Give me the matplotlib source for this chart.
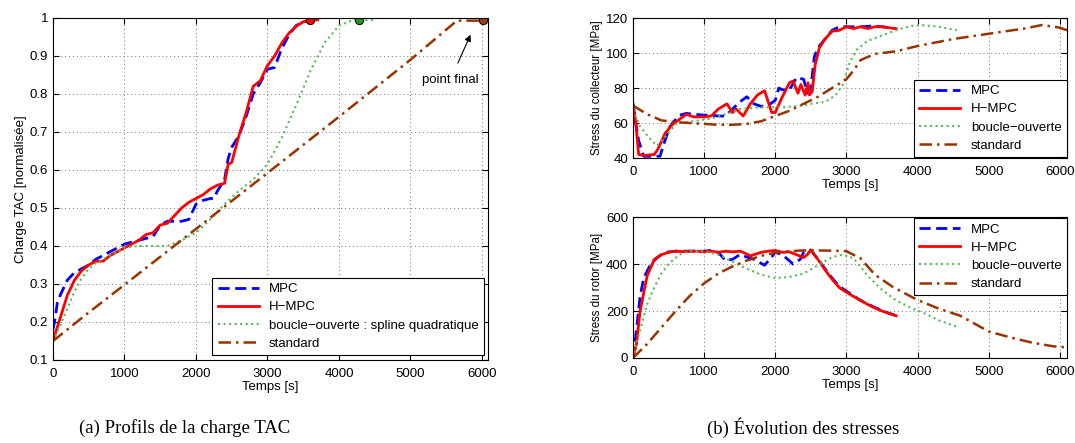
import matplotlib
matplotlib.use('Agg')
from matplotlib import pyplot as plt
import numpy as np

plt.rcParams['font.family'] = ['Liberation Sans', 'DejaVu Sans']

# ---- (a) charge TAC ----
t_mpc = [0, 30, 60, 100, 150, 200, 300, 400, 500, 600, 700, 800, 900, 1000, 1100, 1200, 1300, 1400,
         1500, 1600, 1700, 1800, 1900, 2000, 2100, 2200, 2250, 2300, 2350, 2400, 2450, 2500, 2600,
         2700, 2800, 2900, 3000, 3100, 3200, 3300, 3400, 3500, 3600, 3700]
c_mpc = [0.18, 0.21, 0.25, 0.27, 0.29, 0.31, 0.33, 0.34, 0.35, 0.365, 0.375, 0.385, 0.395, 0.405, 0.41,
         0.415, 0.42, 0.425, 0.455, 0.465, 0.465, 0.465, 0.47, 0.51, 0.52, 0.525, 0.525, 0.545, 0.56,
         0.575, 0.63, 0.66, 0.69, 0.74, 0.80, 0.83, 0.865, 0.87, 0.92, 0.955, 0.98, 0.99, 0.995, 0.995]

t_hmpc = [0, 50, 100, 150, 200, 300, 400, 500, 600, 700, 800, 900, 1000, 1100, 1200, 1300, 1400, 1500,
          1600, 1700, 1800, 1900, 2000, 2100, 2200, 2300, 2400, 2450, 2500, 2600, 2700, 2800, 2900,
          3000, 3100, 3200, 3300, 3400, 3500, 3600, 3700]
c_hmpc = [0.153, 0.18, 0.21, 0.24, 0.27, 0.31, 0.335, 0.35, 0.36, 0.36, 0.375, 0.385, 0.395, 0.405,
          0.415, 0.43, 0.435, 0.455, 0.46, 0.48, 0.50, 0.515, 0.525, 0.535, 0.55, 0.56, 0.565, 0.615,
          0.62, 0.69, 0.75, 0.82, 0.835, 0.875, 0.90, 0.934, 0.96, 0.978, 0.99, 0.995, 0.995]

t_bo = [0, 100, 200, 300, 400, 500, 600, 800, 1000, 1200, 1400, 1600, 1800, 2000, 2200, 2400, 2600,
        2800, 3000, 3200, 3400, 3600, 3800, 4000, 4200, 4300, 4500]
c_bo = [0.15, 0.19, 0.235, 0.28, 0.315, 0.34, 0.355, 0.375, 0.395, 0.40, 0.40, 0.40, 0.415, 0.435,
        0.47, 0.51, 0.545, 0.575, 0.615, 0.685, 0.77, 0.86, 0.935, 0.98, 0.995, 0.995, 0.995]

t_std = [0, 500, 1000, 2000, 3000, 4000, 5000, 5650, 6020]
c_std = [0.15, 0.225, 0.298, 0.445, 0.592, 0.74, 0.89, 0.993, 0.993]

# points finaux
fin_t = [3590, 4285, 6015]
fin_c = [0.995, 0.995, 0.995]

# ---- (b) stress du collecteur ----
tc_mpc = [0, 40, 80, 150, 250, 380, 450, 520, 600, 660, 750, 850, 1000, 1100, 1200, 1300, 1400, 1500,
          1600, 1700, 1800, 1900, 2000, 2050, 2100, 2200, 2300, 2400, 2450, 2500, 2550, 2600, 2700,
          2800, 2900, 3000, 3200, 3400, 3500, 3700]
sc_mpc = [71, 60, 50, 41, 41, 41, 50, 58, 62, 64.5, 65.5, 65, 64.5, 64.5, 64, 64, 68, 72, 75, 71, 69.5,
          70, 73, 80, 79, 79, 86, 85, 77, 80, 98, 103, 108, 113, 115, 115, 115, 115.5, 115, 114]

tc_hmpc = [0, 40, 80, 150, 300, 350, 450, 550, 650, 750, 850, 1000, 1100, 1200, 1320, 1400, 1450, 1550,
           1650, 1750, 1850, 1950, 2000, 2100, 2200, 2250, 2320, 2360, 2420, 2460, 2480, 2520, 2560,
           2620, 2700, 2800, 2900, 3000, 3100, 3200, 3300, 3400, 3500, 3600, 3700]
sc_hmpc = [71, 60, 42, 41.5, 42, 45, 54, 59, 62, 65, 63.5, 63.5, 64, 68, 71, 66, 68, 64, 71, 76, 78.5,
           66, 66, 75, 83, 84, 77, 82, 76, 83, 76, 78, 93, 103, 108, 112.5, 113, 115, 114, 115, 114,
           115, 115, 114.5, 113.8]

tc_bo = [0, 100, 220, 336, 450, 617, 850, 1000, 1100, 1300, 1500, 1800, 2100, 2400, 2500, 2700, 2850,
         2950, 3050, 3150, 3300, 3500, 3700, 3900, 4050, 4300, 4550]
sc_bo = [67.5, 58, 52, 47, 52, 60, 61, 62, 62.5, 65, 68, 69, 69, 70, 71, 72, 76, 82, 95, 102, 107, 110,
         113, 115.5, 116, 115, 113]

tc_std = [0, 200, 400, 600, 800, 1000, 1200, 1400, 1600, 1800, 2000, 2200, 2400, 2600, 2800, 3000,
          3100, 3200, 3400, 3700, 4000, 4500, 5000, 5500, 5750, 6000, 6100]
sc_std = [70, 65, 61.5, 60.5, 60, 59.5, 59, 59, 59.5, 61, 64, 67, 71, 75, 80, 85, 90, 96, 99.5, 101,
          104, 108, 111, 114, 116, 114.5, 113]

# ---- (b) stress du rotor ----
tr_mpc = [0, 30, 60, 100, 150, 250, 350, 450, 600, 800, 1000, 1100, 1200, 1300, 1400, 1500, 1600, 1700,
          1850, 1950, 2000, 2100, 2250, 2350, 2400, 2500, 2600, 2700, 2800, 2900, 3000, 3200, 3400,
          3600, 3700]
sr_mpc = [0, 70, 150, 260, 340, 400, 430, 450, 455, 455, 455, 458, 450, 415, 420, 440, 430, 420, 395,
          430, 450, 440, 400, 420, 450, 460, 420, 380, 340, 305, 285, 245, 215, 190, 180]

tr_hmpc = [0, 50, 100, 200, 300, 400, 500, 600, 700, 800, 900, 1000, 1100, 1200, 1300, 1400, 1500,
           1550, 1650, 1700, 1800, 1900, 2000, 2100, 2200, 2300, 2400, 2450, 2500, 2600, 2700, 2800,
           2900, 3000, 3100, 3200, 3300, 3400, 3500, 3600, 3700]
sr_hmpc = [0, 60, 200, 350, 420, 440, 450, 455, 453, 455, 455, 452, 455, 450, 455, 452, 455, 450, 435,
           440, 450, 455, 458, 450, 452, 440, 428, 440, 460, 420, 375, 335, 300, 280, 262, 245, 228,
           213, 200, 190, 180]

tr_bo = [0, 100, 200, 300, 400, 500, 650, 800, 1000, 1200, 1400, 1600, 1800, 2000, 2200, 2400, 2600,
         2800, 2950, 3100, 3300, 3500, 3700, 3900, 4100, 4300, 4550]
sr_bo = [0, 120, 230, 300, 360, 400, 440, 455, 455, 440, 410, 380, 355, 340, 345, 360, 395, 430, 440,
         425, 350, 290, 245, 215, 190, 160, 134]

tr_std = [0, 200, 400, 600, 800, 1000, 1200, 1400, 1600, 1800, 2000, 2200, 2400, 2600, 2800, 3000,
          3200, 3400, 3650, 4000, 4300, 4600, 5000, 5300, 5600, 5900, 6100]
sr_std = [0, 60, 130, 200, 265, 318, 360, 390, 415, 435, 448, 455, 458, 458, 457, 455, 424, 355, 303,
          247, 210, 180, 113, 88, 66, 50, 45]

labels_a = ['MPC', 'H\u2212MPC', 'boucle\u2212ouverte : spline quadratique', 'standard']
labels_b = ['MPC', 'H\u2212MPC', 'boucle\u2212ouverte', 'standard']

# styles
c_blue = (0, 0, 1)
c_red = (1, 0, 0)
c_green = (0.35, 0.72, 0.35)
c_brown = (0.6, 0.2, 0.0)
fin_cols = [c_red, (0.1, 0.6, 0.1), (0.6, 0.25, 0.05)]
FS = 9.5


def courbes(ax, t1, y1, t2, y2, t3, y3, t4, y4, labels):
    ax.plot(t1, y1, color=c_blue, lw=2, dashes=(4, 2), label=labels[0])
    ax.plot(t2, y2, color=c_red, lw=2, label=labels[1])
    ax.plot(t3, y3, color=c_green, lw=1.5, ls=':', label=labels[2])
    ax.plot(t4, y4, color=c_brown, lw=1.8, dashes=(5, 2, 1, 2), label=labels[3])


def habillage(ax):
    ax.grid(True, ls=(0, (1, 3)), color='0.45', lw=0.7)
    ax.tick_params(direction='in', top=True, right=True, labelsize=FS, length=4, width=0.8)
    ax.tick_params(axis='x', pad=5.5)
    for s in ax.spines.values():
        s.set_linewidth(0.8)
    ax.set_xlabel('Temps [s]', fontsize=FS, labelpad=1)


def legende(ax, loc, anchor):
    leg = ax.legend(loc=loc, bbox_to_anchor=anchor, borderaxespad=0, fontsize=FS,
                    handlelength=3.1, fancybox=False, framealpha=1, edgecolor='k',
                    labelspacing=0.45, borderpad=0.4)
    leg.get_frame().set_linewidth(0.8)


fig = plt.figure(figsize=(10.75, 4.43), dpi=100)

# (a)
ax = fig.add_axes([0.0493, 0.1874, 0.4047, 0.772])
courbes(ax, t_mpc, c_mpc, t_hmpc, c_hmpc, t_bo, c_bo, t_std, c_std, labels_a)
for i in range(len(fin_t)):
    ax.plot(fin_t[i], fin_c[i], 'o', ms=6, mfc=fin_cols[i], mec='k', mew=0.7)
ax.annotate('point final', xy=(5840, 0.956), xytext=(5560, 0.838), fontsize=FS,
            ha='center', va='center',
            arrowprops=dict(arrowstyle='-|>', color='k', lw=0.8, shrinkA=6, shrinkB=0))
ax.set_xlim(0, 6085)
ax.set_ylim(0.1, 1)
ax.set_yticks(np.arange(0.1, 1.01, 0.1))
ax.set_yticklabels(['0.1', '0.2', '0.3', '0.4', '0.5', '0.6', '0.7', '0.8', '0.9', '1'])
habillage(ax)
ax.set_ylabel('Charge TAC [normalisée]', fontsize=FS, labelpad=2)
legende(ax, 'lower right', (0.991, 0.0146))

# (b) collecteur
ax = fig.add_axes([0.5888, 0.6433, 0.4037, 0.316])
courbes(ax, tc_mpc, sc_mpc, tc_hmpc, sc_hmpc, tc_bo, sc_bo, tc_std, sc_std, labels_b)
ax.set_xlim(0, 6100)
ax.set_ylim(40, 120)
ax.set_yticks([40, 60, 80, 100, 120])
habillage(ax)
ax.set_ylabel('Stress du collecteur [MPa]', fontsize=8.3, labelpad=2)
legende(ax, 'lower right', (1.0, 0.007))

# (b) rotor
ax = fig.add_axes([0.5888, 0.1919, 0.4037, 0.318])
courbes(ax, tr_mpc, sr_mpc, tr_hmpc, sr_hmpc, tr_bo, sr_bo, tr_std, sr_std, labels_b)
ax.set_xlim(0, 6100)
ax.set_ylim(0, 600)
ax.set_yticks([0, 200, 400, 600])
habillage(ax)
ax.set_ylabel('Stress du rotor [MPa]', fontsize=8.3, labelpad=2)
legende(ax, 'upper right', (1.0, 0.993))

# legendes des sous-figures
fig.text(185 / 1075, 1 - 428 / 443, '(a) Profils de la charge TAC', family='Liberation Serif',
         fontsize=13.5, ha='center', va='center')
fig.text(803 / 1075, 1 - 428 / 443, '(b) Évolution des stresses', family='Liberation Serif',
         fontsize=13.5, ha='center', va='center')

fig.savefig('out.png', dpi=100)
plt.close()
